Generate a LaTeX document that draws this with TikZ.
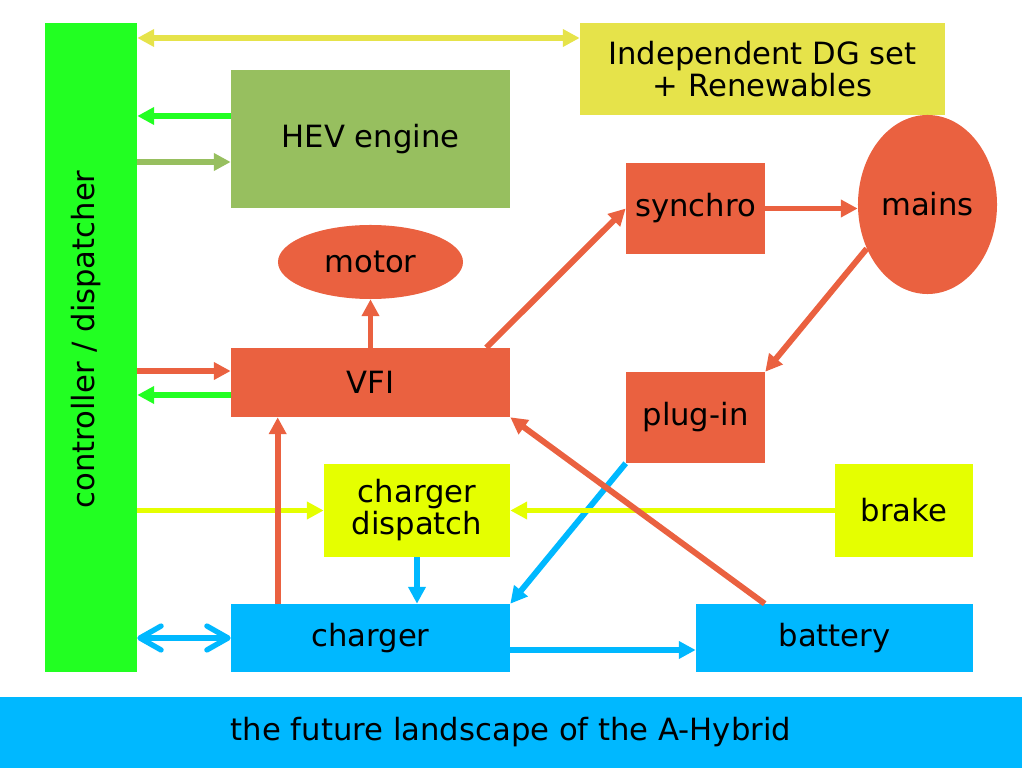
\documentclass[tikz,border=0pt]{standalone}
\usepackage{fontspec}
\setmainfont{DejaVu Sans}
\usetikzlibrary{positioning, arrows.meta, calc, shapes.geometric}

\definecolor{ctrlgreen}{RGB}{34,255,34}
\definecolor{dgyellow}{RGB}{230,227,74}
\definecolor{hevolive}{RGB}{151,191,95}
\definecolor{vfired}{RGB}{234,97,64}
\definecolor{dispyellow}{RGB}{229,255,0}
\definecolor{chgblue}{RGB}{0,184,255}

\begin{document}
\begin{tikzpicture}[x=0.025cm, y=-0.025cm,
    every node/.style={font=\fontsize{21.8}{22.8}\selectfont},
    blk/.style={rectangle, inner sep=0pt, align=center},
    oval/.style={ellipse, inner sep=0pt},
    arr/.style={line width=4.2pt, -{Triangle[length=12pt,width=12pt]}},
    dblarr/.style={line width=4.2pt, {Triangle[length=12pt,width=12pt]}-{Triangle[length=12pt,width=12pt]}},
    dblbarb/.style={line width=3.8pt, {Straight Barb[length=15pt,width=17pt,round]}-{Straight Barb[length=15pt,width=17pt,round]}}]
    \useasboundingbox (0,0) rectangle (1022,768);

    % Blocks
    \node[blk, fill=ctrlgreen, minimum width=2.3cm, minimum height=16.225cm] (ctrl) at (91,347.5) {};
    \node[rotate=90] (ctrltext) at ($(ctrl.center)+(-5,-8)$) {controller / dispatcher};
    \node[blk, fill=dgyellow, minimum width=9.125cm, minimum height=2.3cm] (dg) at (762.5,69) {Independent DG set\\+ Renewables};
    \node[blk, fill=hevolive, minimum width=6.975cm, minimum height=3.45cm] (hev) at (370.5,139) {HEV engine};
    \node[oval, fill=vfired, minimum width=4.625cm, minimum height=1.85cm] (motor) at (370.5,262) {motor};
    \node[blk, fill=vfired, minimum width=6.975cm, minimum height=1.725cm] (vfi) at (370.5,382.5) {VFI};
    \node[blk, fill=vfired, minimum width=3.475cm, minimum height=2.275cm] (synchro) at (695.5,208.5) {synchro};
    \node[oval, fill=vfired, minimum width=3.475cm, minimum height=4.475cm] (mains) at (927.5,204.5) {mains};
    \node[blk, fill=vfired, minimum width=3.475cm, minimum height=2.275cm] (plugin) at (695.5,417.5) {plug-in};
    \node[blk, fill=dispyellow, minimum width=4.65cm, minimum height=2.325cm] (cdisp) at (417,510.5) {charger\\dispatch};
    \node[blk, fill=dispyellow, minimum width=3.45cm, minimum height=2.325cm] (brake) at (904,510.5) {brake};
    \node[blk, fill=chgblue, minimum width=6.975cm, minimum height=1.7cm] (charger) at (370.5,638) {charger};
    \node[blk, fill=chgblue, minimum width=6.925cm, minimum height=1.7cm] (battery) at (834.5,638) {battery};
    \node[blk, fill=chgblue, minimum width=25.55cm, minimum height=1.775cm] (banner) at (511,732.5) {the future landscape of the A-Hybrid};

    % Controller links
    \coordinate (dgin) at ($(dg.west)+(0,-31)$);
    \draw[dblarr, dgyellow] (ctrl.east |- dgin) -- (dgin);
    \coordinate (hevout) at ($(hev.west)+(0,-23)$);
    \coordinate (hevin) at ($(hev.west)+(0,23)$);
    \draw[arr, ctrlgreen] (hevout) -- (ctrl.east |- hevout);
    \draw[arr, hevolive] (ctrl.east |- hevin) -- (hevin);
    \coordinate (vfiin) at ($(vfi.west)+(0,-11.5)$);
    \coordinate (vfiout) at ($(vfi.west)+(0,12.5)$);
    \draw[arr, vfired] (ctrl.east |- vfiin) -- (vfiin);
    \draw[arr, ctrlgreen] (vfiout) -- (ctrl.east |- vfiout);
    \draw[arr, dispyellow] (ctrl.east |- cdisp.west) -- (cdisp.west);
    \draw[dblbarb, chgblue] (ctrl.east |- charger.west) -- (charger.west);

    % Power path
    \draw[arr, vfired] (vfi.north) -- (motor.south);
    \coordinate (vfiup) at ($(vfi.north east)+(-24,0)$);
    \draw[arr, vfired] (vfiup) -- (synchro.west);
    \draw[arr, vfired] (synchro.east) -- (synchro.east -| mains.west);
    \draw[arr, vfired] (mains.216) -- (plugin.north east);
    \draw[arr, chgblue] (plugin.south west) -- (charger.north east);
    \draw[arr, chgblue] (cdisp.south) -- (cdisp.south |- charger.north);
    \draw[arr, dispyellow] (brake.west) -- (cdisp.east);
    \coordinate (chgup) at ($(charger.north west)+(47,0)$);
    \draw[arr, vfired] (chgup) -- (chgup |- vfi.south);
    \coordinate (chgout) at ($(charger.east)+(0,12)$);
    \draw[arr, chgblue] (chgout) -- (battery.west |- chgout);
    \coordinate (batup) at ($(battery.north west)+(69,0)$);
    \draw[arr, vfired] (batup) -- (vfi.south east);
\end{tikzpicture}
\end{document}
